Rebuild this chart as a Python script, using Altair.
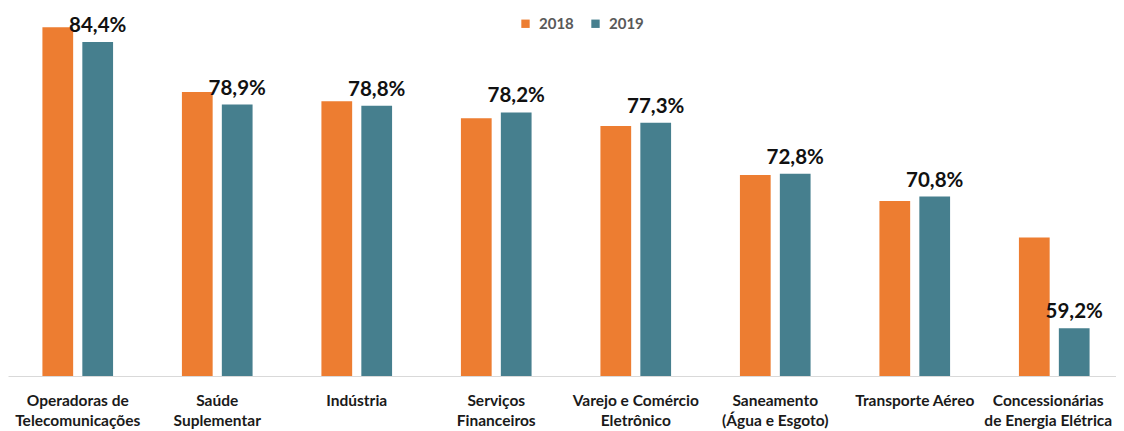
import altair as alt
import pandas as pd

categories = [
    "Operadoras de\nTelecomunicações",
    "Saúde\nSuplementar",
    "Indústria",
    "Serviços\nFinanceiros",
    "Varejo e Comércio\nEletrônico",
    "Saneamento\n(Água e Esgoto)",
    "Transporte Aéreo",
    "Concessionárias\nde Energia Elétrica",
]
years = ["2018", "2019"]
v2018 = [85.7, 80.0, 79.2, 77.7, 77.0, 72.7, 70.4, 67.2]
v2019 = [84.4, 78.9, 78.8, 78.2, 77.3, 72.8, 70.8, 59.2]
colors = ["#ED7D31", "#467F8E"]

rows = []
for c, a, b in zip(categories, v2018, v2019):
    rows.append({"cat": c, "year": "2018", "value": a})
    rows.append({"cat": c, "year": "2019", "value": b})
df = pd.DataFrame(rows)

FONT = "Lato"

x = alt.X(
    "cat:N",
    sort=categories,
    scale=alt.Scale(range=[0, 1116], paddingInner=0.4935, paddingOuter=0.2467),
    axis=alt.Axis(
        title=None,
        labelAngle=0,
        labelExpr="split(datum.value, '\\n')",
        labelFont=FONT,
        labelFontWeight="bold",
        labelFontSize=15.5,
        labelColor="#1a1a1a",
        labelLineHeight=20.5,
        labelPadding=17,
        labelOffset={"condition": {"test": "indexof(datum.value, 'Concession') == 0", "value": -6}, "value": 0},
        ticks=False,
        domainColor="#d9d9d9",
        labelLimit=300,
        labelOverlap=False,
        labelBound=False,
    ),
)
xo = alt.XOffset("year:N", sort=years, scale=alt.Scale(paddingInner=0.23, paddingOuter=0))
yscale = alt.Scale(domain=[55, 87.4], zero=False, nice=False)

base = alt.Chart(df)

bars = base.mark_bar().encode(
    x=x,
    xOffset=xo,
    y=alt.Y("value:Q", scale=yscale, axis=None),
    y2=alt.datum(55),
    color=alt.Color(
        "year:N",
        scale=alt.Scale(domain=years, range=colors),
        legend=alt.Legend(
            orient="none",
            legendX=510,
            legendY=8,
            direction="horizontal",
            title=None,
            symbolType="square",
            symbolSize=70,
            symbolStrokeWidth=0,
            labelFont=FONT,
            labelFontWeight="bold",
            labelFontSize=15,
            labelColor="#595959",
            labelOffset=6,
            columnPadding=14,
        ),
    ),
)

labels = (
    base.transform_filter("datum.year == '2019'")
    .transform_calculate(label="replace(format(datum.value, '.1f'), '.', ',') + '%'")
    .mark_text(font=FONT, fontWeight="bold", fontSize=20.5, color="#111111", baseline="alphabetic", dy=-10)
    .encode(x=x, xOffset=xo, y=alt.Y("value:Q", scale=yscale, axis=None), text="label:N")
)

chart = (
    alt.layer(bars, labels)
    .properties(
        width=1108,
        height=368,
        padding={"left": 0, "top": 0, "right": 0, "bottom": 60},
        autosize=alt.AutoSizeParams(type="none"),
        background="white",
    )
    .configure_view(stroke=None)
)

chart.save("out.html", embed_options={"renderer": "svg", "actions": False})
